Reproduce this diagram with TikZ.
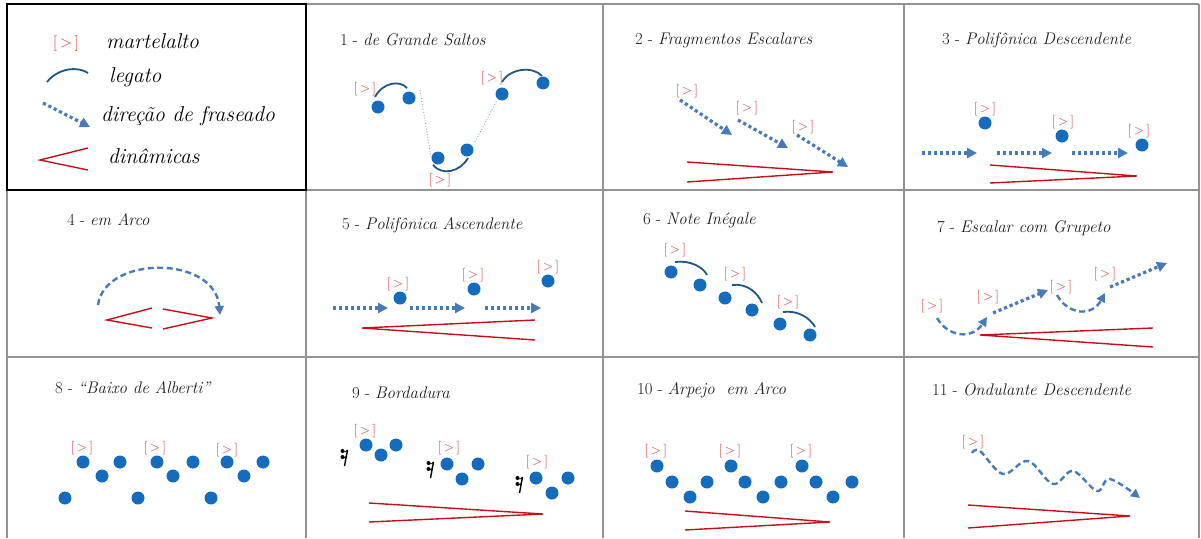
\documentclass[tikz,border=0pt]{standalone}
\usepackage{tikz}
\usetikzlibrary{arrows.meta}
\usetikzlibrary{calc}
\usepackage{xcolor}

\definecolor{notaazul}{RGB}{22,108,188}
\definecolor{setaazul}{RGB}{72,122,184}
\definecolor{ligazul}{RGB}{30,86,138}
\definecolor{dinred}{RGB}{196,16,26}
\definecolor{martred}{RGB}{205,50,50}
\definecolor{titcinza}{RGB}{30,30,30}

\tikzset{
	nota/.style={circle,fill=notaazul,inner sep=0pt,minimum size=13pt},
	mart/.style={text=martred,font=\fontsize{13.5}{15}\selectfont,inner sep=0pt},
	titulo/.style={anchor=west,text=titcinza,font=\fontsize{16.8}{19}\selectfont,inner sep=0pt},
	legenda/.style={anchor=west,font=\fontsize{21.5}{24}\selectfont\itshape,inner sep=0pt},
	ligadura/.style={draw=ligazul,line width=1.8pt},
	fraseado/.style={draw=setaazul,line width=3.2pt,dash pattern=on 3.2pt off 2.8pt,
		-{Triangle[length=10pt,width=10pt]}},
	arco/.style={draw=setaazul,line width=2.4pt,dash pattern=on 6pt off 3.5pt,
		-{Triangle[length=9pt,width=9pt]}},
	salto/.style={draw=setaazul!80,line width=0.8pt,dotted},
	dinamica/.style={draw=dinred,line width=1.4pt},
	grade/.style={draw=gray!85,line width=1.4pt},
	pausa/.pic={
		\draw[line width=1.4pt] (2.5,-8) -- (-0.5,8);
		\draw[line width=0.9pt] (2.5,-8) .. controls (1,-6) .. (-2.5,-6.5);
		\fill (-2.5,-7) circle (2pt);
		\draw[line width=0.9pt] (1.5,-2) .. controls (0,0) .. (-2.5,-0.5);
		\fill (-2.5,-1) circle (2pt);
	}
}

\newcommand{\mt}{[\,\textgreater\,]}

\begin{document}
\begin{tikzpicture}[x=1pt,y=-1pt,>=Stealth]
	\useasboundingbox (0,0) rectangle (1201,538);
	
	% table grid
	\draw[grade] (7,4) -- (1199,4);
	\draw[grade] (7,190) -- (1199,190);
	\draw[grade] (7,357) -- (1199,357);
	\foreach \x in {7,306,603,904,1199}
		\draw[grade] (\x,4) -- (\x,538);
	\draw[line width=2pt] (7,4) rectangle (306,190);
	
	% Legend
	\begin{scope}
		\node[mart,font=\fontsize{16}{18}\selectfont] (lm) at (66,43) {\mt};
		\node[legenda] (lmt) at (106,41) {martelalto};
		
		\draw[ligadura] (47,82) .. controls (58,68) and (78,66) .. (88,73);
		\node[legenda] (llg) at (109,77) {legato};
		
		\draw[fraseado] (43,103) -- (90,127);
		\node[legenda] (lfr) at (101,116) {direção de fraseado};
		
		\draw[dinamica] (88,148) -- (40,160) -- (88,170);
		\node[legenda] (ldn) at (108,156) {dinâmicas};
	\end{scope}
	
	% 1 - de Grande Saltos
	\begin{scope}[shift={(305,0)}]
		\node[titulo] (t1) at (35,40) {1 - \textit{de Grande Saltos}};
		\node[nota] (g1) at (73,107) {};
		\node[nota] (g2) at (104,98) {};
		\node[nota] (g3) at (133,158) {};
		\node[nota] (g4) at (162,150) {};
		\node[nota] (g5) at (197,94) {};
		\node[nota] (g6) at (238,83) {};
		\node[mart] (gm1) at (60,89) {\mt};
		\node[mart] (gm2) at (135,180) {\mt};
		\node[mart] (gm3) at (187,78) {\mt};
		
		% legato
		\draw[ligadura] (70,97) .. controls (78,82) and (95,80) .. (102,88);
		\draw[ligadura] (128,165) .. controls (137,176) and (155,172) .. (163,158);
		\draw[ligadura] (197,82) .. controls (205,68) and (228,66) .. (237,76);
		
		% leaps
		\draw[salto] (115,90) -- (126,157);
		\draw[salto] (170,142) -- (192,100);
	\end{scope}
	
	% 2 - Fragmentos Escalares
	\begin{scope}[shift={(600,0)}]
		\node[titulo] (t2) at (35,40) {2 - \textit{Fragmentos Escalares}};
		\draw[fraseado] (80,100) -- (132,135);
		\draw[fraseado] (138,120) -- (188,148);
		\draw[fraseado] (197,135) -- (248,167);
		\node[mart] (fm1) at (87,91) {\mt};
		\node[mart] (fm2) at (147,108) {\mt};
		\node[mart] (fm3) at (203,127) {\mt};
		\draw[dinamica] (87,162) -- (233,172) -- (87,182);
	\end{scope}
	
	% 3 - Polifonica Descendente
	\begin{scope}[shift={(900,0)}]
		\node[titulo] (t3) at (42,40) {3 - \textit{Polifônica Descendente}};
		\node[nota] (d1) at (85,123) {};
		\node[nota] (d2) at (162,136) {};
		\node[nota] (d3) at (242,145) {};
		\node[mart] (dm1) at (85,109) {\mt};
		\node[mart] (dm2) at (163,122) {\mt};
		\node[mart] (dm3) at (239,131) {\mt};
		\foreach \a/\b in {22/77,97/152,172/228}
			\draw[fraseado] (\a,153) -- (\b,153);
		\draw[dinamica] (90,165) -- (237,176) -- (90,183);
	\end{scope}
	
	% 4 - em Arco
	\begin{scope}[shift={(0,185)}]
		\node[titulo] (t4) at (67,35) {4 - \textit{em Arco}};
		\draw[arco] (98,120) .. controls (105,70) and (215,70) .. (220,130);
		\draw[dinamica] (152,123) -- (107,135) -- (152,143);
		\draw[dinamica] (163,124) -- (212,133) -- (163,144);
	\end{scope}
	
	% 5 - Polifonica Ascendente
	\begin{scope}[shift={(305,185)}]
		\node[titulo] (t5) at (37,40) {5 - \textit{Polifônica Ascendente}};
		\node[nota] (a1) at (95,113) {};
		\node[nota] (a2) at (169,104) {};
		\node[nota] (a3) at (243,96) {};
		\node[mart] (am1) at (93,99) {\mt};
		\node[mart] (am2) at (168,90) {\mt};
		\node[mart] (am3) at (243,82) {\mt};
		\foreach \a/\b in {28/83,105/160,180/236}
			\draw[fraseado] (\a,123) -- (\b,123);
		\draw[dinamica] (230,135) -- (57,143) -- (230,155);
	\end{scope}
	
	% 6 - Note Inegale
	\begin{scope}[shift={(600,185)}]
		\node[titulo] (t6) at (43,35) {6 - \textit{Note Inégale}};
		\node[nota] (i1) at (71,87) {};
		\node[nota] (i2) at (100,100) {};
		\node[nota] (i3) at (125,113) {};
		\node[nota] (i4) at (152,125) {};
		\node[nota] (i5) at (180,139) {};
		\node[nota] (i6) at (210,150) {};
		\node[mart] (im1) at (75,65) {\mt};
		\node[mart] (im2) at (135,89) {\mt};
		\node[mart] (im3) at (188,117) {\mt};
		\draw[ligadura] (75,77) .. controls (90,75) and (103,82) .. (107,90);
		\draw[ligadura] (132,100) .. controls (147,98) and (158,108) .. (162,118);
		\draw[ligadura] (183,127) .. controls (198,125) and (210,133) .. (215,142);
	\end{scope}
	
	% 7 - Escalar com Grupeto
	\begin{scope}[shift={(900,185)}]
		\node[titulo] (t7) at (37,43) {7 - \textit{Escalar com Grupeto}};
		\node[mart] (em1) at (32,121) {\mt};
		\node[mart] (em2) at (88,112) {\mt};
		\node[mart] (em3) at (161,102) {\mt};
		\node[mart] (em4) at (205,89) {\mt};
		\draw[arco] (37,133) .. controls (48,152) and (72,155) .. (87,132);
		\draw[fraseado] (93,128) -- (148,105);
		\draw[arco] (157,110) .. controls (168,130) and (192,132) .. (205,108);
		\draw[fraseado] (210,102) -- (267,78);
		\draw[dinamica] (253,143) -- (80,150) -- (253,162);
	\end{scope}
	
	% 8 - Baixo de Alberti
	\begin{scope}[shift={(0,355)}]
		\node[titulo] (t8) at (55,33) {8 - \textit{``Baixo de Alberti''}};
		\foreach \x/\y [count=\i] in {65/143,83/107,102/121,120/107,
			138/143,157/107,173/121,193/107,211/143,227/107,244/121,263/107}
			\node[nota] (b\i) at (\x,\y) {};
		\node[mart] (bm1) at (82,93) {\mt};
		\node[mart] (bm2) at (155,93) {\mt};
		\node[mart] (bm3) at (227,95) {\mt};
	\end{scope}
	
	% 9 - Bordadura
	\begin{scope}[shift={(305,355)}]
		\node[titulo] (t9) at (47,38) {9 - \textit{Bordadura}};
		\foreach \x/\y [count=\i] in {61/90,76/100,91/90,142/109,157/124,173/109,
			231/123,247/138,263/123}
			\node[nota] (o\i) at (\x,\y) {};
		\pic at (40,103) {pausa};
		\pic at (126,115) {pausa};
		\pic at (215,130) {pausa};
		\node[mart] (om1) at (60,76) {\mt};
		\node[mart] (om2) at (144,93) {\mt};
		\node[mart] (om3) at (232,107) {\mt};
		\draw[dinamica] (64,148) -- (238,159) -- (64,167);
	\end{scope}
	
	% 10 - Arpejo em Arco
	\begin{scope}[shift={(600,355)}]
		\node[titulo] (t10) at (37,35) {10 - \textit{Arpejo\ \ em Arco}};
		\foreach \x/\y [count=\i] in {57/111,72/127,90/142,107/127,
			131/111,145/127,163/142,181/127,202/111,216/127,233/142,252/127}
			\node[nota] (r\i) at (\x,\y) {};
		\node[mart] (rm1) at (56,96) {\mt};
		\node[mart] (rm2) at (130,96) {\mt};
		\node[mart] (rm3) at (201,96) {\mt};
		\draw[dinamica] (85,156) -- (230,167) -- (85,175);
	\end{scope}
	
	% 11 - Ondulante Descendente
	\begin{scope}[shift={(900,355)}]
		\node[titulo] (t11) at (32,35) {11 - \textit{Ondulante Descendente}};
		\node[mart] (um1) at (73,87) {\mt};
		\draw[arco] plot[smooth,tension=0.6] coordinates {(72,98) (80,96) (103,119) (128,106)
			(153,129) (173,116) (197,136) (210,124) (240,143)};
		\draw[dinamica] (68,150) -- (230,161) -- (68,173);
	\end{scope}
	
\end{tikzpicture}
\end{document}
